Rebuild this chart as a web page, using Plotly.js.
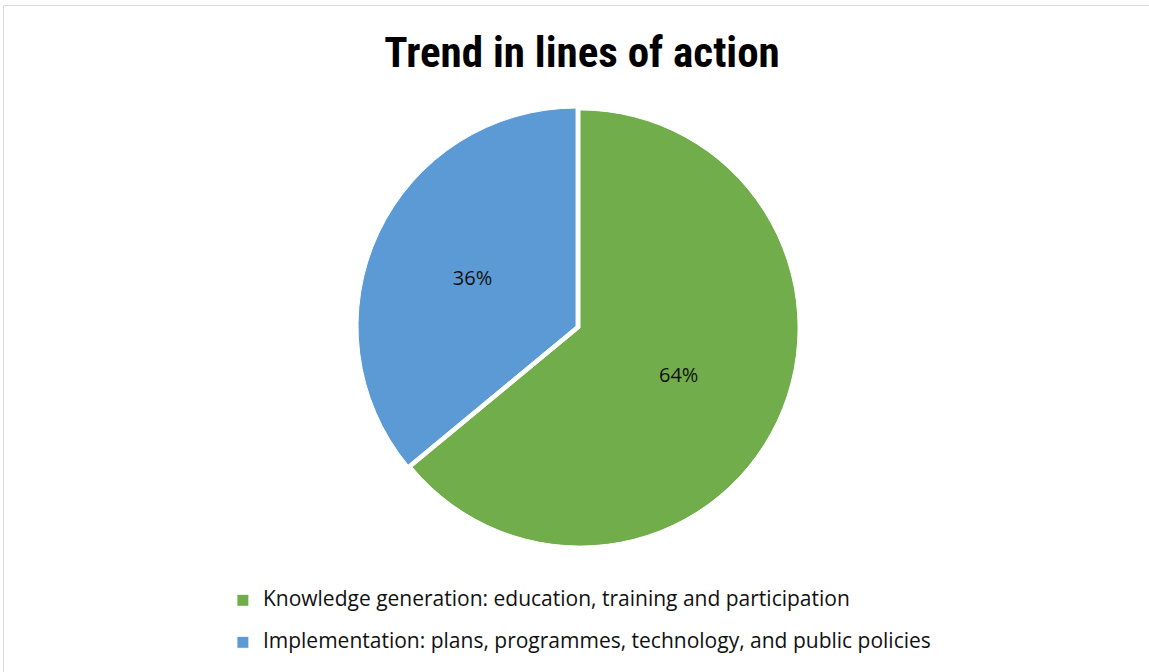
<!DOCTYPE html>
<html>
<head>
<meta charset="utf-8">
<script src="https://cdn.plot.ly/plotly-3.0.1.min.js"></script>
<style>
  html, body { margin: 0; padding: 0; background: #ffffff; overflow: hidden; }
  #frame { position: absolute; left: 3px; top: 5px; width: 1200px; height: 700px; border: 1px solid #d9d9d9; box-sizing: border-box; }
  #chart { position: absolute; left: 0; top: 0; width: 1149px; height: 672px; }
</style>
</head>
<body>
<div id="frame"></div>
<div id="chart"></div>
<script>
const categories = [
  "Knowledge generation: education, training and participation",
  "Implementation: plans, programmes, technology, and public policies"
];
const shares = [64, 36];
const sliceColors = ["#71ad4a", "#5c9ad5"];
const pulls = [0, 0.02];

// legend entries: a blank first line widens the row spacing, larger span for the text itself
const legendLabels = categories.map(c => ' <br><span style="font-size:21px">' + c + '</span>');

const trace = {
  type: "pie",
  labels: legendLabels,
  values: shares,
  sort: false,
  direction: "clockwise",
  rotation: 0,
  pull: pulls,
  marker: { colors: sliceColors, line: { color: "#ffffff", width: 1 } },
  texttemplate: "%{percent:.0%}",
  textposition: "inside",
  insidetextorientation: "horizontal",
  textfont: { family: "Open Sans, sans-serif", size: 20, color: "#111111" },
  domain: { x: [0.3112, 0.6984], y: [0.1808, 0.8430] },
  hoverinfo: "percent"
};

const layout = {
  width: 1149,
  height: 672,
  margin: { l: 0, r: 0, t: 0, b: 0, autoexpand: false },
  paper_bgcolor: "rgba(0,0,0,0)",
  plot_bgcolor: "rgba(0,0,0,0)",
  title: {
    text: "<b>Trend in lines of action</b>",
    font: { family: "Roboto Condensed, Liberation Sans Narrow, Liberation Sans, sans-serif", size: 43, color: "#000000" },
    x: 0.5065, xanchor: "center",
    y: 0.922, yanchor: "middle"
  },
  showlegend: true,
  legend: {
    orientation: "v",
    x: 0.194, xanchor: "left",
    y: 0.02, yanchor: "bottom",
    valign: "bottom",
    font: { family: "Open Sans, sans-serif", size: 15, color: "#111111" },
    traceorder: "normal"
  }
};

Plotly.newPlot("chart", [trace], layout, { displayModeBar: false, staticPlot: true });
</script>
</body>
</html>
